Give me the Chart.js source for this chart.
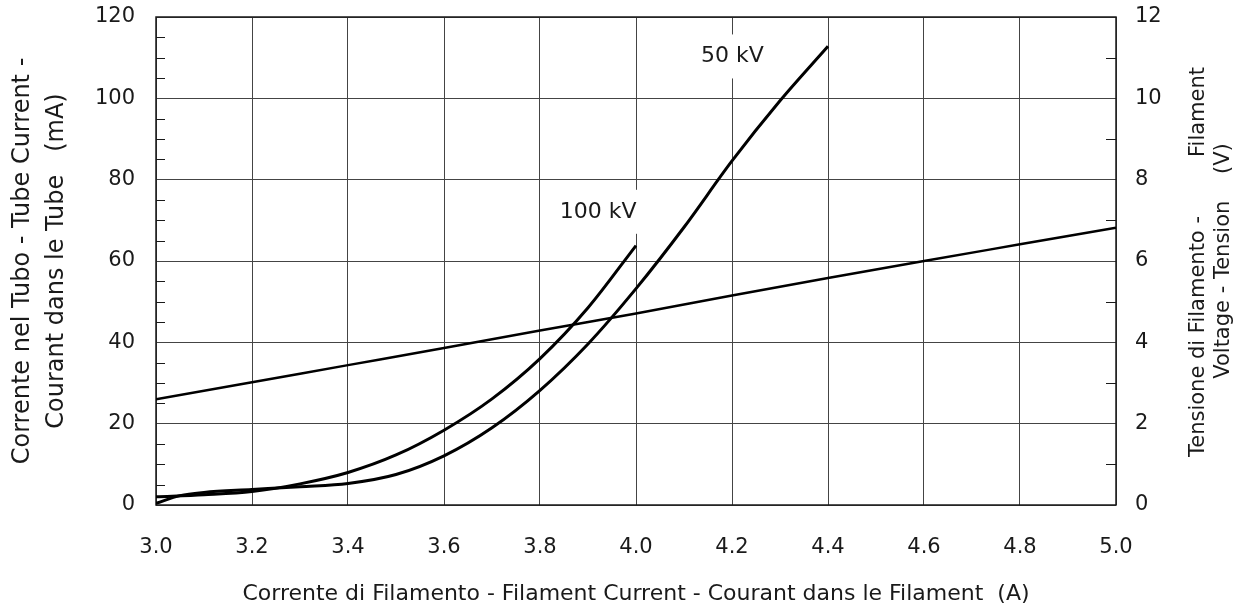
<!DOCTYPE html>
<html>
<head>
<meta charset="utf-8">
<script src="https://cdn.jsdelivr.net/npm/chart.js@4/dist/chart.umd.min.js"></script>
<style>
  html, body { margin: 0; padding: 0; background: #fff; }
</style>
</head>
<body>
<canvas id="chart" width="1253" height="612"></canvas>
<script>
// filament current (A) for each series
const current50kV  = [3.0, 3.05, 3.1, 3.2, 3.3, 3.4, 3.5, 3.6, 3.7, 3.8, 3.9, 4.0, 4.1, 4.2, 4.3, 4.4];
const tube50kV     = [0.4, 2.3, 3.1, 3.8, 4.5, 5.3, 7.5, 12.1, 19.0, 28.2, 39.6, 53.2, 68.3, 84.6, 99.4, 112.8];

const current100kV = [3.0, 3.1, 3.2, 3.3, 3.4, 3.5, 3.6, 3.7, 3.8, 3.9, 4.0];
const tube100kV    = [2.0, 2.5, 3.3, 5.2, 8.0, 12.3, 18.4, 26.1, 36.0, 48.5, 63.8];

const currentVolt  = [3.0, 3.2, 3.4, 3.6, 3.8, 4.0, 4.2, 4.4, 4.6, 4.8, 5.0];
const filamentVolt = [2.60, 3.02, 3.44, 3.86, 4.29, 4.71, 5.15, 5.58, 6.00, 6.41, 6.82];

// curve labels: text, x (A), y (mA)
const curveLabels = [
    { text: '100 kV', x: 3.921, y: 72.1 },
    { text: '50 kV',  x: 4.201, y: 110.3 }
];

const xTitle = 'Corrente di Filamento - Filament Current - Courant dans le Filament  (A)';
const yTitle = ['Corrente nel Tubo - Tube Current -', 'Courant dans le Tube   (mA)'];
const y1TitleParts = ['Tensione di Filamento -', 'Filament'];
const y1TitleLine2 = 'Voltage - Tension    (V)';

const FONT = '"DejaVu Sans", "Noto Sans", sans-serif';
const INK = '#1a1a1a';

function points(xs, ys) {
    return xs.map(function(x, i) { return { x: x, y: ys[i] }; });
}

// keep the plot box where the reference has it
function fixWidth(w) {
    return function(s) { s.width = w; s.paddingTop = 0; s.paddingBottom = 0; };
}

const decorPlugin = {
    id: 'decor',
    beforeDatasetsDraw(chart) {
        const { ctx, chartArea: a, scales } = chart;
        ctx.save();
        ctx.strokeStyle = INK;
        ctx.lineWidth = 1;
        ctx.beginPath();
        // minor ticks, left axis every 5 mA
        for (let v = 5; v < 120; v += 5) {
            if (v % 20 === 0) continue;
            const y = Math.round(scales.y.getPixelForValue(v)) + 0.5;
            ctx.moveTo(a.left, y); ctx.lineTo(a.left + 9, y);
        }
        // minor ticks, right axis every 1 V
        for (let v = 1; v < 12; v += 2) {
            const y = Math.round(scales.y1.getPixelForValue(v)) + 0.5;
            ctx.moveTo(a.right, y); ctx.lineTo(a.right - 10, y);
        }
        ctx.stroke();
        // frame
        ctx.lineWidth = 1.5;
        ctx.strokeRect(a.left, a.top, a.right - a.left, a.bottom - a.top);
        ctx.restore();
    },
    afterDatasetsDraw(chart) {
        const { ctx, scales } = chart;
        ctx.save();
        ctx.font = '22px ' + FONT;
        ctx.textAlign = 'center';
        ctx.textBaseline = 'middle';
        curveLabels.forEach(function(l) {
            const px = scales.x.getPixelForValue(l.x);
            const py = scales.y.getPixelForValue(l.y);
            const w = ctx.measureText(l.text).width;
            ctx.fillStyle = '#fff';
            ctx.fillRect(px - w / 2 - 6, py - 22, w + 12, 44);
            ctx.fillStyle = INK;
            ctx.fillText(l.text, px, py);
        });
        ctx.restore();
    },
    afterDraw(chart) {
        // right axis title, reading bottom to top like the left one
        const { ctx, chartArea: a } = chart;
        const cy = (a.top + a.bottom) / 2;
        ctx.save();
        ctx.font = '21px ' + FONT;
        ctx.fillStyle = INK;
        ctx.textBaseline = 'middle';
        ctx.translate(1199, cy);
        ctx.rotate(-Math.PI / 2);
        ctx.textAlign = 'left';
        ctx.fillText(y1TitleParts[0], -196, 0);
        ctx.textAlign = 'right';
        ctx.fillText(y1TitleParts[1], 194, 0);
        ctx.textAlign = 'center';
        ctx.fillText(y1TitleLine2, 0, 25);
        ctx.restore();
    }
};

const lineStyle = {
    borderColor: '#000',
    borderWidth: 3,
    pointRadius: 0,
    fill: false,
    cubicInterpolationMode: 'monotone'
};

new Chart(document.getElementById('chart'), {
    type: 'line',
    data: {
        datasets: [
            Object.assign({ label: '50 kV', data: points(current50kV, tube50kV), yAxisID: 'y' }, lineStyle),
            Object.assign({ label: '100 kV', data: points(current100kV, tube100kV), yAxisID: 'y' }, lineStyle),
            Object.assign({ label: 'Filament voltage', data: points(currentVolt, filamentVolt), yAxisID: 'y1' }, lineStyle, { borderWidth: 2.5 })
        ]
    },
    options: {
        responsive: false,
        animation: false,
        layout: { padding: { top: 17, left: 0, right: 0, bottom: 0 } },
        plugins: {
            legend: { display: false },
            tooltip: { enabled: false }
        },
        scales: {
            x: {
                type: 'linear',
                min: 3.0,
                max: 5.0,
                afterFit: function(s) { s.height = 107; s.paddingLeft = 0; s.paddingRight = 0; },
                border: { display: false },
                grid: { color: '#444', lineWidth: 1, drawTicks: false },
                ticks: {
                    stepSize: 0.2,
                    padding: 30,
                    color: INK,
                    font: { family: FONT, size: 21 },
                    callback: function(v) { return v.toFixed(1); }
                },
                title: {
                    display: true,
                    text: xTitle,
                    color: INK,
                    font: { family: FONT, size: 22 },
                    padding: { top: 0, bottom: 5 }
                }
            },
            y: {
                position: 'left',
                min: 0,
                max: 120,
                afterFit: fixWidth(156),
                border: { display: false },
                grid: { color: '#444', lineWidth: 1, drawTicks: false },
                ticks: {
                    stepSize: 20,
                    padding: 21,
                    color: INK,
                    font: { family: FONT, size: 21 }
                },
                title: {
                    display: true,
                    text: yTitle,
                    color: INK,
                    font: { family: FONT, size: 24, lineHeight: 1.45 },
                    padding: { top: 5, bottom: 0 }
                }
            },
            y1: {
                position: 'right',
                min: 0,
                max: 12,
                afterFit: fixWidth(137),
                border: { display: false },
                grid: { display: false, drawTicks: false },
                ticks: {
                    stepSize: 2,
                    padding: 19,
                    color: INK,
                    font: { family: FONT, size: 21 }
                }
            }
        }
    },
    plugins: [decorPlugin]
});
</script>
</body>
</html>
